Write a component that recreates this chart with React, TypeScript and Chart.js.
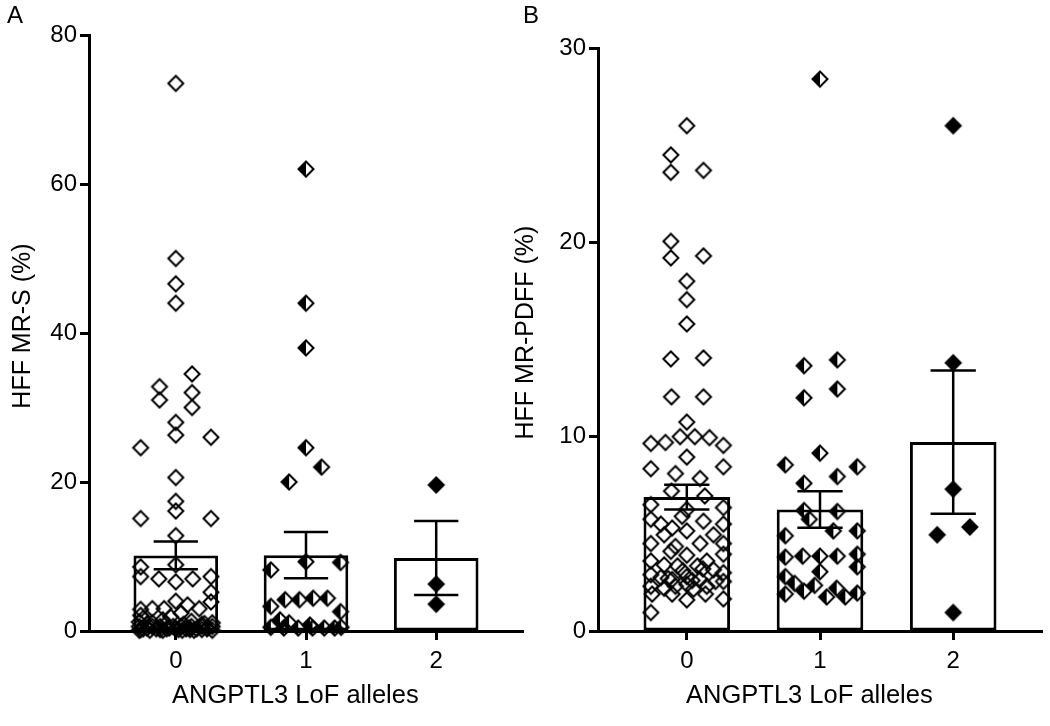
import React, { useEffect, useRef } from 'react';
import { Chart, registerables } from 'chart.js';

Chart.register(...registerables);

const FONT = "'Liberation Sans', Arial, Helvetica, sans-serif";

// ---------- data ----------
const categories = [0, 1, 2];
const xTickLabels = ['0', '1', '2'];
const xTitle = 'ANGPTL3 LoF alleles';
const yTitleA = 'HFF MR-S (%)';
const yTitleB = 'HFF MR-PDFF (%)';

// Panel A: HFF MR-S (%)
const meansA = [10.15, 10.18, 9.8];
const semA = [1.86, 3.11, 4.97];
// [value, horizontal jitter in category units]
const a0 = [
  [73.5, 0], [50.0, 0], [46.6, 0], [44.0, 0],
  [34.5, 0.125], [32.8, -0.125], [32.0, 0.125], [31.0, -0.125], [30.0, 0.125],
  [28.0, 0], [26.3, 0], [26.0, 0.27], [24.6, -0.27],
  [20.6, 0], [17.4, 0], [16.1, 0], [15.1, -0.27], [15.1, 0.27], [12.8, 0],
  [8.9, 0], [8.6, -0.27], [7.3, -0.27], [7.0, -0.13], [6.6, 0], [7.0, 0.13], [7.3, 0.27],
  [5.2, 0.27], [4.0, 0], [3.9, 0.27], [3.5, 0.09], [3.0, -0.09], [3.0, -0.18], [2.9, -0.27], [3.0, 0.18],
  [2.4, 0.04], [2.1, -0.27], [1.9, -0.04], [1.7, -0.25], [1.5, -0.1], [1.3, 0.12], [1.1, -0.18], [1.0, 0.22],
  [0.9, -0.22], [0.9, -0.08], [0.9, 0.06], [0.9, 0.2], [1.2, -0.28], [1.1, 0.28],
  [0.6, -0.28], [0.6, -0.18], [0.6, -0.12], [0.6, -0.02], [0.6, 0.04], [0.6, 0.12], [0.6, 0.2], [0.6, 0.28],
  [0.4, -0.22], [0.4, -0.05], [0.4, 0.1], [0.4, 0.24],
  [0.3, -0.25], [0.3, -0.15], [0.3, -0.07], [0.3, 0.0], [0.3, 0.08], [0.3, 0.16], [0.3, 0.24],
  [0.2, -0.12], [0.2, 0.02], [0.2, 0.11], [0.2, -0.27],
  [0.1, -0.2], [0.1, -0.1], [0.1, 0.05], [0.1, 0.14], [0.1, 0.28], [0.1, -0.28], [0.2, 0.2],
];
const a1 = [
  [62.0, 0], [44.0, 0], [38.0, 0], [24.6, 0], [22.0, 0.12], [20.0, -0.13],
  [9.3, 0], [9.2, 0.265], [8.2, -0.27],
  [4.2, -0.16], [4.2, -0.05], [4.4, 0.055], [4.4, 0.165], [3.3, -0.27], [2.6, 0.265],
  [1.5, -0.2], [1.1, -0.13], [0.8, 0.03], [0.5, -0.27], [0.4, -0.17], [0.4, -0.06],
  [0.4, 0.05], [0.4, 0.14], [0.4, 0.22], [0.5, 0.27],
];
const a2 = [[19.6, 0], [6.3, 0], [3.6, 0]];

// Panel B: HFF MR-PDFF (%)
const meansB = [6.89, 6.25, 9.72];
const semB = [0.64, 0.94, 3.69];
const b0 = [
  [26.0, 0], [24.5, -0.12], [23.6, -0.12], [23.7, 0.125], [20.05, -0.12], [19.2, -0.12], [19.3, 0.125],
  [18.0, 0], [17.05, 0], [15.8, 0], [14.0, -0.12], [14.05, 0.125],
  [12.05, -0.115], [12.05, 0.125], [10.75, 0],
  [9.65, -0.27], [9.7, -0.16], [10.0, -0.05], [10.0, 0.06], [9.95, 0.17], [9.55, 0.275],
  [8.95, 0], [8.35, -0.27], [8.45, 0.275], [8.1, -0.085], [7.85, 0.1],
  [7.2, -0.115], [6.95, 0.135], [6.25, 0], [6.5, -0.27], [6.35, 0.275],
  [5.9, -0.035], [5.75, -0.27], [5.5, -0.195], [5.65, 0.125], [5.5, 0.275], [5.3, -0.11], [5.15, 0],
  [4.95, 0.2], [4.95, -0.17],
  [4.5, -0.27], [4.5, 0.1], [4.5, 0.275], [4.35, -0.085], [4.1, -0.12], [3.95, 0.275], [3.9, 0],
  [3.6, -0.27], [3.6, 0.15], [3.4, -0.17], [3.35, -0.07], [3.35, 0.08], [3.15, 0.2], [3.0, 0.275],
  [3.1, -0.03], [3.2, 0.12], [2.6, 0.04], [2.7, -0.14],
  [2.9, -0.27], [2.75, -0.195], [2.65, -0.11], [2.8, 0], [2.65, 0.1], [2.55, 0.215], [2.55, 0.275],
  [2.3, -0.27], [2.2, -0.17], [2.3, -0.085], [2.4, 0], [2.15, 0.05], [2.3, 0.15],
  [1.9, -0.26], [1.9, -0.11], [1.9, 0.14], [1.6, 0], [1.65, 0.275], [0.95, -0.27],
];
const b1 = [
  [28.4, 0], [13.65, -0.12], [13.95, 0.13], [12.0, -0.12], [12.45, 0.13],
  [8.55, -0.26], [9.15, 0], [8.45, 0.28], [7.95, 0.13], [7.6, -0.12],
  [6.2, -0.12], [6.15, 0.13], [5.75, -0.08], [4.9, -0.26], [5.15, 0.1], [5.15, 0.28],
  [3.8, -0.26], [3.85, -0.13], [3.85, 0], [3.85, 0.13], [3.95, 0.28], [3.3, 0.28], [3.05, 0],
  [2.8, -0.26], [2.45, -0.19], [2.35, -0.04], [2.05, -0.12], [1.9, -0.26], [1.75, 0.05],
  [2.2, 0.125], [1.75, 0.19], [1.95, 0.28],
];
const b2 = [[26.0, 0], [13.8, 0], [7.3, 0], [4.95, -0.12], [5.35, 0.125], [0.95, 0]];

// ---------- drawing helpers ----------
function makeDiamond(kind: 'open' | 'half' | 'full'): HTMLCanvasElement {
  const size = 22;
  const c = size / 2;
  const r = 7.5;
  const cv = document.createElement('canvas');
  cv.width = size;
  cv.height = size;
  const ctx = cv.getContext('2d') as CanvasRenderingContext2D;
  ctx.lineWidth = 2;
  ctx.strokeStyle = '#000';
  ctx.fillStyle = '#000';
  ctx.lineJoin = 'miter';
  const path = () => {
    ctx.beginPath();
    ctx.moveTo(c - r, c);
    ctx.lineTo(c, c - r);
    ctx.lineTo(c + r, c);
    ctx.lineTo(c, c + r);
    ctx.closePath();
  };
  if (kind === 'full') {
    path();
    ctx.fill();
  } else if (kind === 'half') {
    ctx.beginPath();
    ctx.moveTo(c - r, c);
    ctx.lineTo(c, c - r);
    ctx.lineTo(c, c + r);
    ctx.closePath();
    ctx.fill();
  }
  path();
  ctx.stroke();
  return cv;
}

const panelLabel = {
  id: 'panelLabel',
  afterDraw(chart: any, _args: any, opts: any) {
    const ctx = chart.ctx;
    ctx.save();
    ctx.font = `24px ${FONT}`;
    ctx.fillStyle = '#000';
    ctx.textBaseline = 'alphabetic';
    ctx.textAlign = 'left';
    ctx.fillText(opts.text, opts.x, opts.y);
    ctx.restore();
  },
};

interface PanelSpec {
  label: string;
  labelX: number;
  yTitle: string;
  yMax: number;
  yStep: number;
  means: number[];
  sems: number[];
  groups: number[][][];
  padTop: number;
  padRight: number;
  yWidth: number;
  yTitlePad: number;
}

function buildConfig(p: PanelSpec): any {
  const styles = [makeDiamond('open'), makeDiamond('half'), makeDiamond('full')];
  const CAP = 0.17;
  const err: any[] = [];
  categories.forEach((g, i) => {
    const hi = p.means[i] + p.sems[i];
    const lo = p.means[i] - p.sems[i];
    err.push({ x: g - CAP, y: hi }, { x: g + CAP, y: hi }, { x: g, y: null });
    err.push({ x: g, y: hi }, { x: g, y: lo }, { x: g, y: null });
    err.push({ x: g - CAP, y: lo }, { x: g + CAP, y: lo }, { x: g, y: null });
  });
  const tickFont = { family: FONT, size: 24 };
  const titleFont = { family: FONT, size: 25, lineHeight: 1.2 };
  const xTitleFont = { family: FONT, size: 25.5, lineHeight: 1.2 };
  return {
    type: 'bar',
    data: {
      datasets: [
        {
          type: 'bar',
          data: categories.map((g, i) => ({ x: g, y: p.means[i] })),
          backgroundColor: '#ffffff',
          borderColor: '#000000',
          borderWidth: 3,
          borderSkipped: false,
          barPercentage: 0.65,
          categoryPercentage: 1.0,
          order: 3,
        },
        ...p.groups.map((grp, gi) => ({
          type: 'scatter',
          data: grp.map(([v, dx]) => ({ x: categories[gi] + dx, y: v })),
          pointStyle: styles[gi],
          pointRadius: 8,
          borderWidth: 0,
          clip: false,
          order: 2,
        })),
        {
          type: 'line',
          data: err,
          borderColor: '#000000',
          borderWidth: 2.5,
          pointRadius: 0,
          spanGaps: false,
          fill: false,
          tension: 0,
          clip: false,
          order: 1,
        },
      ],
    },
    options: {
      responsive: false,
      animation: false,
      devicePixelRatio: 1,
      layout: { padding: { top: p.padTop, right: p.padRight, left: 0, bottom: 0 } },
      plugins: {
        legend: { display: false },
        tooltip: { enabled: false },
        panelLabel: { text: p.label, x: p.labelX, y: 23 },
      },
      scales: {
        x: {
          type: 'linear',
          offset: false,
          min: -2 / 3,
          max: 8 / 3,
          afterBuildTicks: (s: any) => {
            s.ticks = categories.map((v) => ({ value: v }));
          },
          afterFit: (s: any) => {
            s.height = 95;
          },
          ticks: {
            autoSkip: false,
            maxRotation: 0,
            padding: 7,
            color: '#000',
            font: tickFont,
            callback: (v: any) => {
              const i = categories.indexOf(Number(v));
              return i >= 0 ? xTickLabels[i] : '';
            },
          },
          grid: { offset: false, drawOnChartArea: false, drawTicks: true, tickLength: 9, tickWidth: 3, tickColor: '#000' },
          border: { display: true, color: '#000', width: 3 },
          title: {
            display: true,
            text: xTitle + '   ',
            color: '#000',
            font: xTitleFont,
            padding: { top: 0, bottom: 15 },
          },
        },
        y: {
          type: 'linear',
          min: 0,
          max: p.yMax,
          afterFit: (s: any) => {
            s.width = p.yWidth;
          },
          ticks: { stepSize: p.yStep, padding: 3, color: '#000', font: tickFont },
          grid: { drawOnChartArea: false, drawTicks: true, tickLength: 9, tickWidth: 3, tickColor: '#000' },
          border: { display: true, color: '#000', width: 3 },
          title: {
            display: true,
            text: '  ' + p.yTitle,
            color: '#000',
            font: titleFont,
            padding: { top: p.yTitlePad, bottom: 0 },
          },
        },
      },
    },
    plugins: [panelLabel],
  };
}

function Panel(props: { spec: PanelSpec; left: number; width: number }) {
  const ref = useRef<HTMLCanvasElement | null>(null);
  useEffect(() => {
    if (!ref.current) return;
    const chart = new Chart(ref.current, buildConfig(props.spec));
    return () => chart.destroy();
  }, []);
  return (
    <canvas
      ref={ref}
      width={props.width}
      height={726}
      style={{ position: 'absolute', left: props.left, top: 0, width: props.width, height: 726 }}
    />
  );
}

const specA: PanelSpec = {
  label: 'A', labelX: 7, yTitle: yTitleA, yMax: 80, yStep: 20,
  means: meansA, sems: semA, groups: [a0, a1, a2],
  padTop: 35, padRight: 1, yWidth: 89, yTitlePad: 8,
};
const specB: PanelSpec = {
  label: 'B', labelX: 12, yTitle: yTitleB, yMax: 30, yStep: 10,
  means: meansB, sems: semB, groups: [b0, b1, b2],
  padTop: 48, padRight: 6, yWidth: 87, yTitlePad: 0,
};

export default function App() {
  return (
    <div style={{ position: 'fixed', left: 0, top: 0, width: 1050, height: 726, background: '#fff', overflow: 'hidden' }}>
      <Panel spec={specA} left={0} width={531} />
      <Panel spec={specB} left={511} width={539} />
    </div>
  );
}
